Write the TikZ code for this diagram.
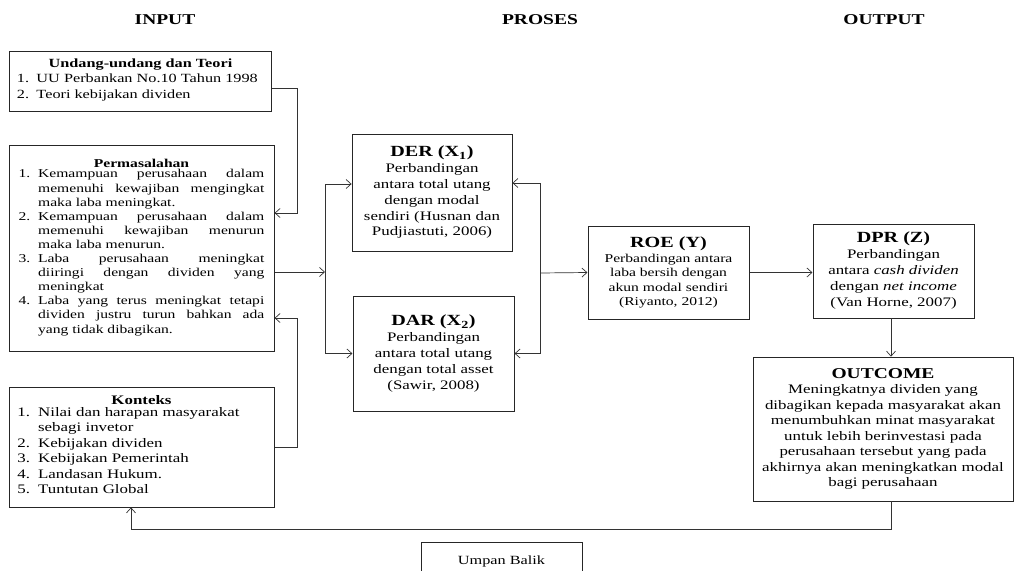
\documentclass[tikz,border=0pt]{standalone}
\usepackage{fontspec}
\setmainfont{Liberation Serif}
\usetikzlibrary{arrows.meta}
\tikzset{
  kotak/.style={
    draw=black!85, line width=0.7pt,
    xscale=1.3,
    inner sep=0pt,
    align=center
  },
  judul/.style={font=\bfseries\fontsize{15}{18}\selectfont, xscale=1.3},
  panah/.style={draw=black!80, line width=0.7pt, -{Straight Barb[length=5pt,width=9pt]}},
  garis/.style={draw=black!80, line width=0.7pt}
}

\begin{document}
\begin{tikzpicture}[x=1pt,y=-1pt]
\useasboundingbox (0,0) rectangle (1016,570);

%%%%%%%%% judul kolom
\foreach \x/\teks in {165/INPUT,540/PROSES,884/OUTPUT}
  \node[judul] (h\teks) at (\x,20) {\teks};

%%%%%%%%% INPUT
\node[kotak, minimum width=202pt, minimum height=60pt, font=\fontsize{12.5}{15.5}\selectfont] (undang) at (140.5,81) {%
  \textbf{Undang-undang dan Teori}\\
  \begin{tabular}{@{}p{15pt}@{}p{175pt}@{}}
  1. & UU Perbankan No.10 Tahun 1998\\
  2. & Teori kebijakan dividen
  \end{tabular}};

\node[kotak, minimum width=204pt, minimum height=206pt, font=\fontsize{12}{14.1}\selectfont] (perm) at (141.5,248) {%
  \textbf{Permasalahan}\\
  \begin{tabular}{@{}p{15pt}@{}p{174pt}@{}}
  1. & Kemampuan perusahaan dalam\linebreak memenuhi kewajiban mengingkat\linebreak maka laba meningkat.\\
  2. & Kemampuan perusahaan dalam\linebreak memenuhi kewajiban menurun\linebreak maka laba menurun.\\
  3. & Laba perusahaan meningkat\linebreak diiringi dengan dividen yang\linebreak meningkat\\
  4. & Laba yang terus meningkat tetapi\linebreak dividen justru turun bahkan ada\linebreak yang tidak dibagikan.
  \end{tabular}};

\node[kotak, minimum width=204pt, minimum height=120pt, font=\fontsize{13}{15.5}\selectfont] (konteks) at (141.5,447) {%
  \textbf{Konteks}\\
  \begin{tabular}{@{}p{16pt}@{}p{175pt}@{}}
  1. & Nilai dan harapan masyarakat\newline sebagi invetor\\
  2. & Kebijakan dividen\\
  3. & Kebijakan Pemerintah\\
  4. & Landasan Hukum.\\
  5. & Tuntutan Global
  \end{tabular}};

%%%%%%%%% PROSES
\node[kotak, minimum width=123pt, minimum height=117pt, font=\fontsize{13}{15.8}\selectfont] (der) at (432,192.5) {%
  {\fontsize{15.5}{17}\selectfont\bfseries DER (X\textsubscript{1})}\\
  Perbandingan\\ antara total utang\\ dengan modal\\ sendiri (Husnan dan\\ Pudjiastuti, 2006)};

\node[kotak, minimum width=124pt, minimum height=115pt, font=\fontsize{13}{15.8}\selectfont] (dar) at (433.5,353.5) {%
  {\fontsize{15.5}{17}\selectfont\bfseries DAR (X\textsubscript{2})}\\
  Perbandingan\\ antara total utang\\ dengan total asset\\ (Sawir, 2008)};

\node[kotak, minimum width=124pt, minimum height=93pt, font=\fontsize{12}{14.5}\selectfont] (roe) at (668.5,272.5) {%
  {\fontsize{15.5}{17}\selectfont\bfseries ROE (Y)}\\
  Perbandingan antara\\ laba bersih dengan\\ akun modal sendiri\\ (Riyanto, 2012)};

%%%%%%%%% OUTPUT
\node[kotak, minimum width=124pt, minimum height=94pt, font=\fontsize{13}{16}\selectfont] (dpr) at (893.5,271) {%
  {\fontsize{15.5}{17}\selectfont\bfseries DPR (Z)}\\
  Perbandingan\\ antara \textit{cash dividen}\\ dengan \textit{net income}\\ (Van Horne, 2007)};

\node[kotak, minimum width=200pt, minimum height=144pt, font=\fontsize{13}{15.5}\selectfont] (outcome) at (883,429) {%
  {\fontsize{15}{17}\selectfont\bfseries OUTCOME}\\
  Meningkatnya dividen yang\\ dibagikan kepada masyarakat akan\\ menumbuhkan minat masyarakat\\
  untuk lebih berinvestasi pada\\ perusahaan tersebut yang pada\\ akhirnya akan meningkatkan modal\\ bagi perusahaan};

\node[kotak, minimum width=124pt, minimum height=38pt, font=\fontsize{12.5}{14}\selectfont] (umpan) at (501.5,561) {Umpan Balik};

%%%%%%%%% panah
\coordinate (cabangKiri) at (325,272);
\coordinate (cabangKanan) at (540,273);

\draw[panah] ([yshift=-7pt]undang.east) -| (297,213) -- (perm.east |- 0,213);
\draw[panah] (konteks.east) -| (297,318) -- (perm.east |- 0,318);
\draw[panah] ([yshift=-24pt]perm.east) -- (cabangKiri);
\draw[panah] (cabangKiri) |- ([yshift=8.5pt]der.west);
\draw[panah] (cabangKiri) |- (dar.west);

\draw[panah] (cabangKanan) |- ([yshift=9.5pt]der.east);
\draw[panah] (cabangKanan) |- (dar.east);
\draw[panah] (cabangKanan) -- (roe.west);

\draw[panah] (roe.east) -- (roe.east -| dpr.west);
\draw[panah] ([xshift=-2.5pt]dpr.south) -- ([xshift=-2.5pt]dpr.south |- outcome.north);

%%umpan balik
\draw[panah] ([xshift=-2.5pt]dpr.south |- outcome.south) -- ++(0,28) -| ([xshift=-10.5pt]konteks.south);

\end{tikzpicture}
\end{document}
